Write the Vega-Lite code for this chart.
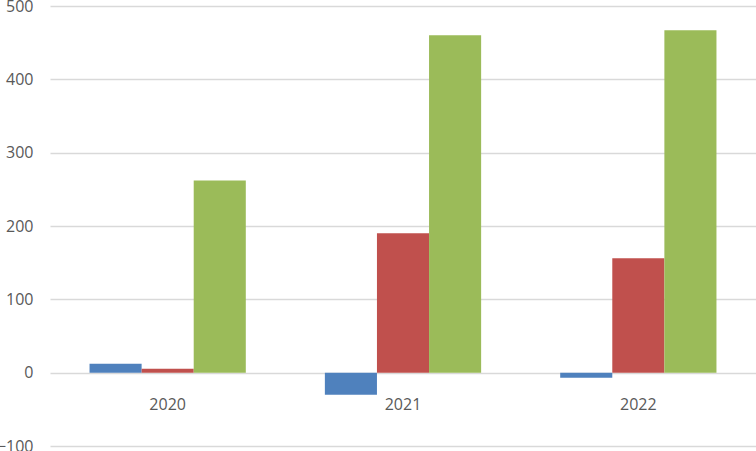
{
  "$schema": "https://vega.github.io/schema/vega-lite/v6.json",
  "autosize": "none",
  "width": 706,
  "height": 440,
  "padding": {"left": 50, "top": 6, "right": 0, "bottom": 5},
  "background": "white",
  "config": {"view": {"stroke": null}, "font": "Open Sans"},
  "data": {
    "values": [
      {"year": "2020", "series": "Series 1", "value": 12},
      {"year": "2020", "series": "Series 2", "value": 5.5},
      {"year": "2020", "series": "Series 3", "value": 262},
      {"year": "2021", "series": "Series 1", "value": -30},
      {"year": "2021", "series": "Series 2", "value": 190},
      {"year": "2021", "series": "Series 3", "value": 460},
      {"year": "2022", "series": "Series 1", "value": -7},
      {"year": "2022", "series": "Series 2", "value": 156},
      {"year": "2022", "series": "Series 3", "value": 467}
    ]
  },
  "mark": {"type": "bar"},
  "encoding": {
    "x": {
      "field": "year",
      "type": "nominal",
      "scale": {"paddingInner": 0.336, "paddingOuter": 0.168},
      "axis": {
        "title": null,
        "labelAngle": 0,
        "ticks": false,
        "domain": false,
        "offset": -74,
        "labelPadding": 24,
        "labelFontSize": 16,
        "labelColor": "#595959",
        "labelFont": "Open Sans"
      }
    },
    "xOffset": {"field": "series", "type": "nominal", "scale": {"paddingInner": 0, "paddingOuter": 0}},
    "y": {
      "field": "value",
      "type": "quantitative",
      "scale": {"domain": [-100, 500], "nice": false},
      "axis": {
        "title": null,
        "values": [-100, 0, 100, 200, 300, 400, 500],
        "ticks": false,
        "domain": false,
        "labelPadding": 17,
        "labelFontSize": 16,
        "labelColor": "#595959",
        "labelFont": "Open Sans",
        "gridColor": "#d9d9d9",
        "gridWidth": 1.5
      }
    },
    "color": {
      "field": "series",
      "type": "nominal",
      "scale": {"domain": ["Series 1", "Series 2", "Series 3"], "range": ["#4F81BD", "#C0504D", "#9BBB59"]},
      "legend": null
    }
  }
}
